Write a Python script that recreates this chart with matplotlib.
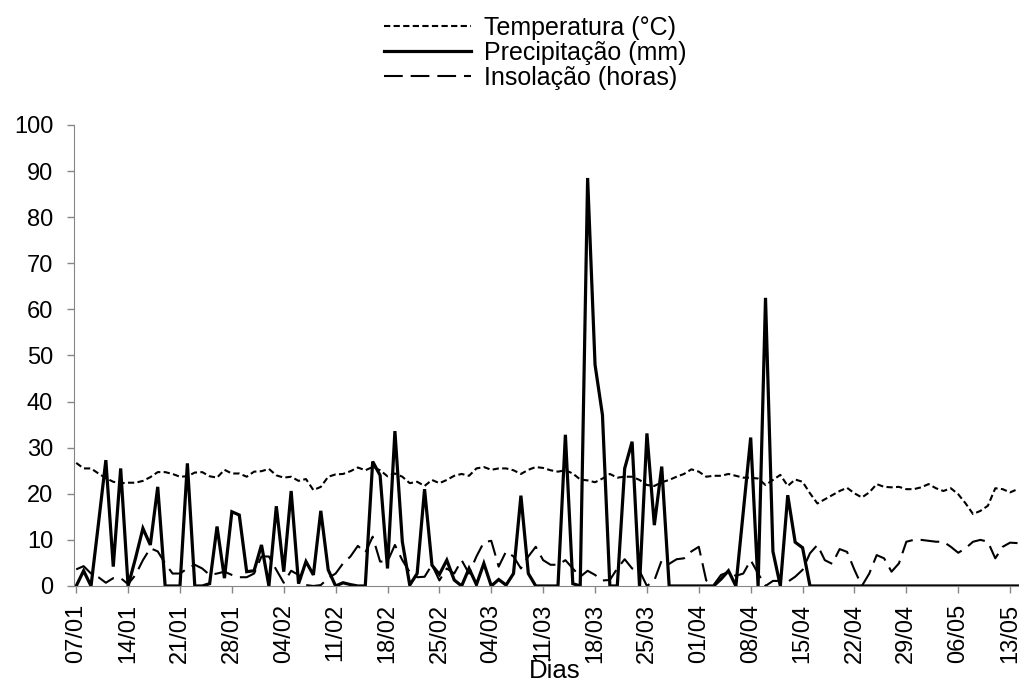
import numpy as np
import matplotlib
matplotlib.use('Agg')
import matplotlib.pyplot as plt

plt.rcParams['font.family'] = ['Liberation Sans', 'DejaVu Sans']

# daily values from 07/01 to 14/05
temperatura = [26.7, 25.5, 25.5, 24.4, 23.4, 22.6, 22.3, 22.4, 22.4, 22.8,
               23.6, 24.7, 24.7, 24.3, 23.7, 23.8, 24.6, 24.7, 23.8, 23.5,
               25.2, 24.4, 24.4, 23.7, 24.8, 24.9, 25.4, 24.0, 23.5, 23.7,
               22.8, 23.2, 20.8, 21.5, 23.7, 24.2, 24.3, 24.9, 25.7, 25.1,
               25.8, 25.1, 23.8, 24.4, 23.7, 22.3, 22.6, 21.7, 23.0, 22.3,
               23.0, 23.9, 24.3, 23.9, 25.5, 25.8, 25.2, 25.5, 25.5, 25.1,
               24.3, 25.2, 25.8, 25.6, 25.1, 24.8, 25.1, 24.4, 23.1, 22.9,
               22.5, 23.3, 24.3, 23.5, 23.7, 23.7, 23.0, 21.9, 21.7, 22.5,
               23.0, 23.7, 24.3, 25.3, 24.8, 23.7, 23.9, 23.9, 24.3, 23.9,
               23.5, 23.5, 23.3, 21.9, 23.0, 24.1, 21.7, 23.1, 22.6, 20.1,
               17.9, 18.8, 19.7, 20.6, 21.3, 20.1, 19.2, 20.3, 22.1, 21.5,
               21.4, 21.5, 21.0, 21.0, 21.4, 22.1, 21.2, 20.6, 21.2, 19.9,
               17.9, 15.6, 16.3, 17.4, 21.2, 21.0, 20.3, 21.0]

precipitacao = [0, 3.3, 0, 13.5, 27.3, 4.2, 25.5, 0, 6.0, 12.5,
                8.9, 21.5, 0, 0, 0, 26.6, 0, 0, 0.5, 12.9,
                1.7, 16.1, 15.4, 3.1, 3.3, 8.9, 0, 17.3, 3.1, 20.6,
                0.5, 5.3, 2.4, 16.3, 3.5, 0, 0.7, 0.3, 0, 0,
                27.0, 24.0, 3.8, 33.6, 9.6, 0.2, 2.7, 21.0, 4.5, 2.5,
                5.6, 1.3, 0, 3.8, 0.3, 4.9, 0, 1.4, 0.2, 2.7,
                19.6, 2.7, 0, 0, 0, 0, 32.8, 0.5, 0, 88.5,
                48.0, 37.1, 0, 0, 25.5, 31.3, 0, 33.1, 13.2, 25.9,
                0, 0, 0, 0, 0, 0, 0, 1.5, 3.3, 0,
                16.0, 32.2, 0, 62.5, 7.5, 0, 19.7, 9.5, 8.3, 0,
                0, 0, 0, 0, 0, 0, 0, 0, 0, 0,
                0, 0, 0, 0, 0, 0, 0, 0, 0, 0,
                0, 0, 0, 0, 0, 0, 0, 0]

insolacao = [3.6, 4.3, 2.7, 1.9, 0.7, 1.7, 1.7, 0.4, 2.4, 5.6,
             8.2, 7.5, 4.9, 2.7, 2.7, 3.8, 4.6, 3.8, 2.4, 2.7,
             3.1, 2.4, 1.9, 1.9, 2.7, 6.4, 6.4, 3.5, 0.7, 3.3,
             2.4, 0.2, 0, 0.2, 1.7, 2.7, 4.9, 6.4, 8.7, 7.2,
             10.7, 5.3, 5.3, 8.9, 5.6, 3.0, 1.9, 2.0, 4.6, 1.2,
             3.8, 2.7, 5.6, 2.7, 6.4, 9.5, 9.8, 4.2, 7.5, 6.4,
             3.8, 6.4, 8.5, 5.6, 4.6, 4.6, 5.6, 3.8, 2.0, 3.3,
             2.4, 1.2, 1.3, 3.8, 5.8, 3.8, 3.3, 0, 1.2, 5.6,
             4.8, 5.8, 6.0, 7.5, 8.5, 1.2, 0.2, 2.4, 3.0, 2.2,
             2.7, 5.6, 2.7, 0, 1.1, 1.1, 0.9, 2.0, 3.5, 7.1,
             8.9, 5.6, 4.8, 8.0, 7.4, 3.5, 0, 2.7, 6.7, 6.0,
             3.1, 4.9, 9.6, 10.0, 10.0, 9.8, 9.6, 9.6, 8.5, 7.2,
             8.2, 9.6, 10.0, 9.6, 6.0, 8.5, 9.4, 9.3]

tick_labels = ['07/01', '14/01', '21/01', '28/01', '04/02', '11/02', '18/02',
               '25/02', '04/03', '11/03', '18/03', '25/03', '01/04', '08/04',
               '15/04', '22/04', '29/04', '06/05', '13/05']

dias = np.arange(len(temperatura))

fig = plt.figure(figsize=(10.19, 6.84), dpi=100)
ax = fig.add_axes([0.0726, 0.1433, 0.9274, 0.674])

l1, = ax.plot(dias, temperatura, color='black', lw=1.5,
              linestyle=(0, (3, 1.6)))
l2, = ax.plot(dias, precipitacao, color='black', lw=2.3,
              solid_joinstyle='miter')
l3, = ax.plot(dias, insolacao, color='black', lw=1.5,
              linestyle=(0, (9, 3.8)))

ax.set_ylim(0, 100)
ax.set_yticks(range(0, 101, 10))
ax.set_xlim(-0.3, 127.2)
ax.set_xticks(dias[::7])
ax.set_xticklabels(tick_labels, rotation=90)

gray = '#868686'
for s in ['top', 'right']:
    ax.spines[s].set_visible(False)
ax.spines['left'].set_color(gray)
ax.spines['bottom'].set_color(gray)
ax.tick_params(colors=gray, labelcolor='black', labelsize=17, length=5,
               width=1)
ax.tick_params(axis='y', pad=10)
ax.tick_params(axis='x', pad=8)
fig.text(555 / 1019, 1 - 671 / 684, 'Dias', fontsize=18.5,
         ha='center', va='center')

fig.legend([l1, l2, l3],
           ['Temperatura (°C)', 'Precipitação (mm)', 'Insolação (horas)'],
           loc='upper center', bbox_to_anchor=(0.525, 1.01), frameon=False,
           fontsize=18, handlelength=3.5, labelspacing=0.05,
           handletextpad=0.5)

fig.savefig('out.png', dpi=100)
